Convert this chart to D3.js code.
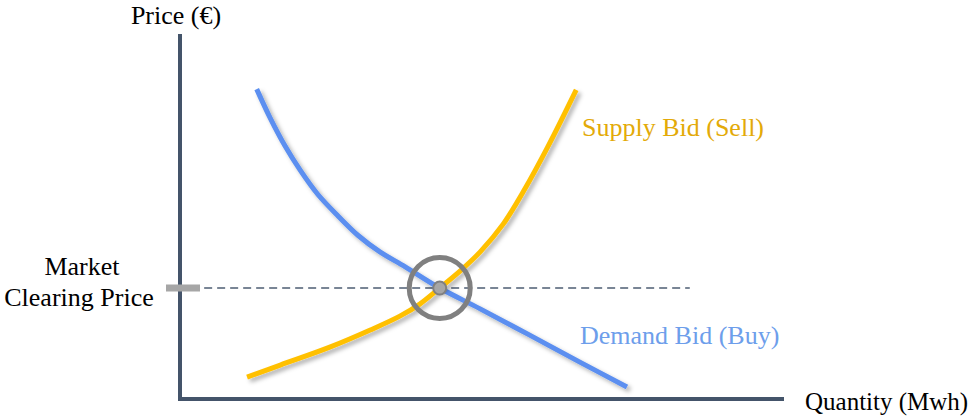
<!DOCTYPE html>
<html><head><meta charset="utf-8">
<script src="https://cdn.jsdelivr.net/npm/d3@7"></script>
<style>html,body{margin:0;padding:0;background:#fff;}svg{display:block;}</style>
</head><body>
<svg id="chart" width="973" height="418"></svg>
<script>
// Data (quantity 0-100, price 0-100, arbitrary units)
const demandQty   = [12.7, 14.9, 17.4, 19.9, 22.8, 26.2, 29.5, 33.1, 37.3, 43.0, 49.7, 57.9, 66.2, 74.0];
const demandPrice = [84.9, 77.1, 69.3, 62.7, 56.1, 50.1, 44.8, 40.3, 36.2, 30.4, 24.7, 17.5, 10.1, 3.3];
const supplyQty   = [11.1, 16.6, 24.8, 31.5, 36.4, 39.7, 43.0, 46.4, 49.7, 53.5, 56.8, 60.8, 65.6];
const supplyPrice = [6.0, 9.3, 14.2, 18.9, 22.7, 26.0, 30.4, 35.1, 40.3, 47.9, 56.7, 68.8, 84.7];
const clearing = {qty: 43.0, price: 30.4};
const dashRange = [4, 84.4];
const labels = {
  yAxis: "Price (€)", xAxis: "Quantity (Mwh)",
  market: ["Market", "Clearing Price"],
  supply: "Supply Bid (Sell)", demand: "Demand Bid (Buy)"
};

const svg = d3.select("#chart");
const x = d3.scaleLinear().domain([0, 100]).range([180, 784]);
const y = d3.scaleLinear().domain([0, 100]).range([399, 34]);
const font = "Liberation Serif, Times New Roman, DejaVu Serif, serif";

const defs = svg.append("defs");
const f = defs.append("filter").attr("id", "sh").attr("x", "-20%").attr("y", "-20%").attr("width", "140%").attr("height", "140%");
f.append("feDropShadow").attr("dx", 3).attr("dy", 3).attr("stdDeviation", 2).attr("flood-color", "#000").attr("flood-opacity", 0.3);

// axes
svg.append("line").attr("x1", x(0)).attr("x2", x(0)).attr("y1", y(100)).attr("y2", y(0) + 2)
  .attr("stroke", "#44546a").attr("stroke-width", 4);
svg.append("line").attr("x1", x(0) - 2).attr("x2", x(100)).attr("y1", y(0)).attr("y2", y(0))
  .attr("stroke", "#44546a").attr("stroke-width", 4);

// clearing price dashed line
svg.append("line").attr("x1", x(dashRange[0])).attr("x2", x(dashRange[1]))
  .attr("y1", y(clearing.price)).attr("y2", y(clearing.price))
  .attr("stroke", "#4d5d73").attr("stroke-width", 1.6).attr("stroke-dasharray", "8,5");
// grey tick
svg.append("line").attr("x1", x(0) - 14).attr("x2", x(0) + 20)
  .attr("y1", y(clearing.price)).attr("y2", y(clearing.price))
  .attr("stroke", "#a6a6a6").attr("stroke-width", 7);

const line = d3.line().x(d => x(d[0])).y(d => y(d[1])).curve(d3.curveCatmullRom.alpha(0.5));
const demand = demandQty.map((q, i) => [q, demandPrice[i]]);
const supply = supplyQty.map((q, i) => [q, supplyPrice[i]]);

svg.append("path").attr("d", line(demand)).attr("fill", "none")
  .attr("stroke", "#5b8ff0").attr("stroke-width", 5).attr("filter", "url(#sh)");
svg.append("path").attr("d", line(supply)).attr("fill", "none")
  .attr("stroke", "#ffc000").attr("stroke-width", 5).attr("filter", "url(#sh)");

// clearing circle
svg.append("circle").attr("cx", x(clearing.qty)).attr("cy", y(clearing.price)).attr("r", 30.5)
  .attr("fill", "none").attr("stroke", "#808080").attr("stroke-width", 5);
svg.append("circle").attr("cx", x(clearing.qty)).attr("cy", y(clearing.price)).attr("r", 6.5)
  .attr("fill", "#a6a6a6").attr("stroke", "#808080").attr("stroke-width", 2);

// text
const t = (txt, px, py, anchor, color, size) => svg.append("text").attr("x", px).attr("y", py)
  .attr("text-anchor", anchor).attr("font-family", font).attr("font-size", size || 26)
  .attr("fill", color).text(txt);
t(labels.yAxis, 176, 24, "middle", "#000");
t(labels.xAxis, 805, 410, "start", "#000", 25);
t(labels.market[0], 82, 275, "middle", "#000");
t(labels.market[1], 79, 306, "middle", "#000");
t(labels.supply, 582, 136, "start", "#e3aa08");
t(labels.demand, 580, 344, "start", "#6d9eeb");
</script>
</body></html>
